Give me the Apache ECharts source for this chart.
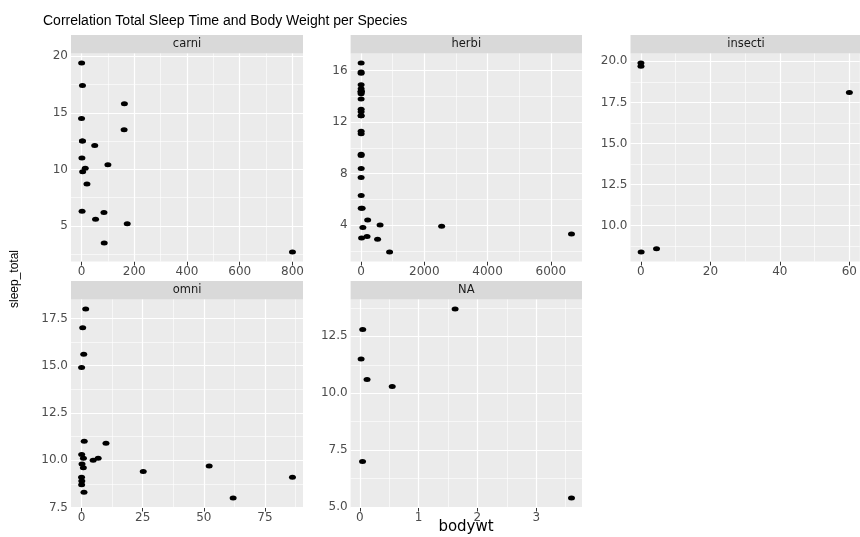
<!DOCTYPE html>
<html><head><meta charset="utf-8">
<script src="https://cdn.jsdelivr.net/npm/echarts@6/dist/echarts.min.js"></script>
<style>html,body{margin:0;padding:0;background:#fff}#c{width:860px;height:537px}</style>
</head><body><div id="c"></div>
<script>
// ---- data (msleep: bodywt vs sleep_total, by vore) ----
const facetNames = ['carni', 'herbi', 'insecti', 'omni', 'NA'];

const carniBodywt = [50, 20.49, 14, 3.5, 3.3, 800, 85, 0.37, 1.4, 0.028, 162.564, 100, 161.499, 86, 53.18, 173.33, 2, 3.38, 4.23];
const carniSleep  = [12.1, 8.7, 10.1, 17.4, 12.5, 2.7, 6.2, 19.4, 11.0, 14.5, 15.8, 10.4, 13.5, 3.5, 5.6, 5.2, 6.3, 12.5, 9.8];

const herbiBodywt = [1.35, 600, 3.85, 14.8, 33.5, 0.728, 0.42, 2.95, 2547, 521, 187, 0.071, 899.995, 2.625, 1.67, 6654, 0.053, 0.12, 0.035, 0.022, 0.266, 0.21, 2.5, 55.5, 1.1, 0.32, 0.148, 0.92, 0.101, 0.205, 0.112, 207.501];
const herbiSleep  = [14.4, 4.0, 14.4, 3.0, 5.3, 9.4, 12.5, 5.3, 3.9, 2.9, 3.1, 14.9, 1.9, 6.3, 9.5, 3.3, 14.2, 14.3, 12.8, 12.5, 14.6, 7.7, 8.4, 3.8, 11.1, 13.0, 11.3, 16.6, 13.8, 15.9, 15.8, 4.4];

const insectiBodywt = [0.023, 0.01, 60, 0.075, 4.5];
const insectiSleep  = [19.7, 19.9, 18.1, 8.4, 8.6];

const omniBodywt = [0.48, 0.019, 4.75, 0.06, 1.0, 0.005, 1.7, 0.77, 10, 0.2, 62, 6.8, 52.2, 25.235, 1.1, 0.044, 0.743, 86.25, 0.9, 0.104];
const omniSleep  = [17.0, 14.9, 10.0, 10.3, 8.3, 9.1, 18.0, 10.1, 10.9, 9.8, 8.0, 10.1, 9.7, 9.4, 11.0, 8.7, 9.6, 9.1, 15.6, 8.9];

const naBodywt = [0.045, 0.55, 0.021, 1.62, 3.6, 0.122, 0.048];
const naSleep  = [7.0, 10.3, 11.5, 13.7, 5.4, 10.6, 12.8];

// ---- tick labels (major) and minor grid breaks ----
const carniXTicks = ['0', '200', '400', '600', '800'];
const carniXMinor = [100, 300, 500, 700];
const carniYTicks = ['5', '10', '15', '20'];
const carniYMinor = [2.5, 7.5, 12.5, 17.5];

const herbiXTicks = ['0', '2000', '4000', '6000'];
const herbiXMinor = [1000, 3000, 5000];
const herbiYTicks = ['4', '8', '12', '16'];
const herbiYMinor = [2, 6, 10, 14];

const insectiXTicks = ['0', '20', '40', '60'];
const insectiXMinor = [10, 30, 50];
const insectiYTicks = ['10.0', '12.5', '15.0', '17.5', '20.0'];
const insectiYMinor = [8.75, 11.25, 13.75, 16.25, 18.75];

const omniXTicks = ['0', '25', '50', '75'];
const omniXMinor = [12.5, 37.5, 62.5, 87.5];
const omniYTicks = ['7.5', '10.0', '12.5', '15.0', '17.5'];
const omniYMinor = [8.75, 11.25, 13.75, 16.25];

const naXTicks = ['0', '1', '2', '3'];
const naXMinor = [0.5, 1.5, 2.5, 3.5];
const naYTicks = ['5.0', '7.5', '10.0', '12.5'];
const naYMinor = [6.25, 8.75, 11.25, 13.75];

const facets = [
  { name: facetNames[0], x: carniBodywt, y: carniSleep, xt: carniXTicks, xm: carniXMinor, yt: carniYTicks, ym: carniYMinor },
  { name: facetNames[1], x: herbiBodywt, y: herbiSleep, xt: herbiXTicks, xm: herbiXMinor, yt: herbiYTicks, ym: herbiYMinor },
  { name: facetNames[2], x: insectiBodywt, y: insectiSleep, xt: insectiXTicks, xm: insectiXMinor, yt: insectiYTicks, ym: insectiYMinor },
  { name: facetNames[3], x: omniBodywt, y: omniSleep, xt: omniXTicks, xm: omniXMinor, yt: omniYTicks, ym: omniYMinor },
  { name: facetNames[4], x: naBodywt, y: naSleep, xt: naXTicks, xm: naXMinor, yt: naYTicks, ym: naYMinor }
];

// ---- layout ----
const cols = [{ left: 71, width: 232 }, { left: 350.6, width: 231.4 }, { left: 630.5, width: 231 }];
const rows = [{ top: 53.5, height: 208 }, { top: 299.5, height: 208 }];
const stripH = 18.5;
const PANEL_BG = '#EBEBEB', STRIP_BG = '#D9D9D9';
const TICK_FONT = 'DejaVu Sans';

function expand(arr) { // ggplot default continuous expansion: 5%
  const mn = Math.min(...arr), mx = Math.max(...arr), r = mx - mn;
  return [mn - 0.05 * r, mx + 0.05 * r];
}

const grids = [], xAxes = [], yAxes = [], series = [], graphics = [];

facets.forEach((f, i) => {
  const c = cols[i % 3], r = rows[Math.floor(i / 3)];
  grids.push({ left: c.left, top: r.top, width: c.width, height: r.height, show: true, backgroundColor: PANEL_BG, borderWidth: 0, containLabel: false });
  const xr = expand(f.x), yr = expand(f.y);
  const xv = f.xt.map(Number), yv = f.yt.map(Number);
  xAxes.push({
    type: 'value', gridIndex: i, min: xr[0], max: xr[1], position: 'bottom',
    axisLine: { show: false },
    axisTick: { show: true, customValues: xv, length: 4, lineStyle: { color: '#333333', width: 1 } },
    axisLabel: { customValues: xv, margin: 4, color: '#4D4D4D', fontSize: 12, fontFamily: TICK_FONT,
      formatter: v => f.xt[xv.indexOf(v)] !== undefined ? f.xt[xv.indexOf(v)] : String(v) },
    splitLine: { show: false }
  });
  yAxes.push({
    type: 'value', gridIndex: i, min: yr[0], max: yr[1], position: 'left',
    axisLine: { show: false },
    axisTick: { show: true, customValues: yv, length: 4, lineStyle: { color: '#333333', width: 1 } },
    axisLabel: { customValues: yv, margin: 3, color: '#4D4D4D', fontSize: 12, fontFamily: TICK_FONT,
      formatter: v => f.yt[yv.indexOf(v)] !== undefined ? f.yt[yv.indexOf(v)] : String(v) },
    splitLine: { show: false }
  });
  const gl = [];
  f.xm.forEach(v => gl.push({ xAxis: v, lineStyle: { color: '#FFFFFF', width: 0.6, type: 'solid' } }));
  f.ym.forEach(v => gl.push({ yAxis: v, lineStyle: { color: '#FFFFFF', width: 0.6, type: 'solid' } }));
  xv.forEach(v => gl.push({ xAxis: v, lineStyle: { color: '#FFFFFF', width: 1.2, type: 'solid' } }));
  yv.forEach(v => gl.push({ yAxis: v, lineStyle: { color: '#FFFFFF', width: 1.2, type: 'solid' } }));
  series.push({
    type: 'scatter', xAxisIndex: i, yAxisIndex: i, data: [], silent: true, z: 1,
    markLine: { silent: true, z: 1, symbol: ['none', 'none'], label: { show: false }, emphasis: { disabled: true }, animation: false, data: gl }
  });
  series.push({
    type: 'scatter', name: f.name, xAxisIndex: i, yAxisIndex: i, z: 10,
    symbol: 'circle', symbolSize: [7, 5],
    itemStyle: { color: '#000000', opacity: 1 },
    data: f.x.map((xv2, k) => [xv2, f.y[k]])
  });
  graphics.push({ type: 'rect', silent: true, shape: { x: c.left, y: r.top - stripH, width: c.width, height: stripH }, style: { fill: STRIP_BG } });
  graphics.push({ type: 'text', silent: true, x: c.left + c.width / 2, y: r.top - stripH / 2,
    style: { text: f.name, fill: '#1A1A1A', font: '11.5px "DejaVu Sans"', align: 'center', verticalAlign: 'middle' } });
});

graphics.push({ type: 'text', silent: true, x: 466, y: 527,
  style: { text: 'bodywt', fill: '#000000', font: '15px "DejaVu Sans"', align: 'center', verticalAlign: 'middle' } });
graphics.push({ type: 'text', silent: true, x: 15, y: 279, rotation: Math.PI / 2,
  style: { text: 'sleep_total', fill: '#000000', font: '12px "Liberation Sans"', align: 'center', verticalAlign: 'middle' } });

const chart = echarts.init(document.getElementById('c'), null, { renderer: 'canvas' });
chart.setOption({
  animation: false,
  backgroundColor: '#FFFFFF',
  title: { text: 'Correlation Total Sleep Time and Body Weight per Species', left: 43, top: 14, padding: 0,
    textStyle: { fontSize: 14, fontWeight: 'normal', color: '#000000', fontFamily: 'Liberation Sans' } },
  grid: grids, xAxis: xAxes, yAxis: yAxes, series: series, graphic: graphics
});
</script></body></html>
